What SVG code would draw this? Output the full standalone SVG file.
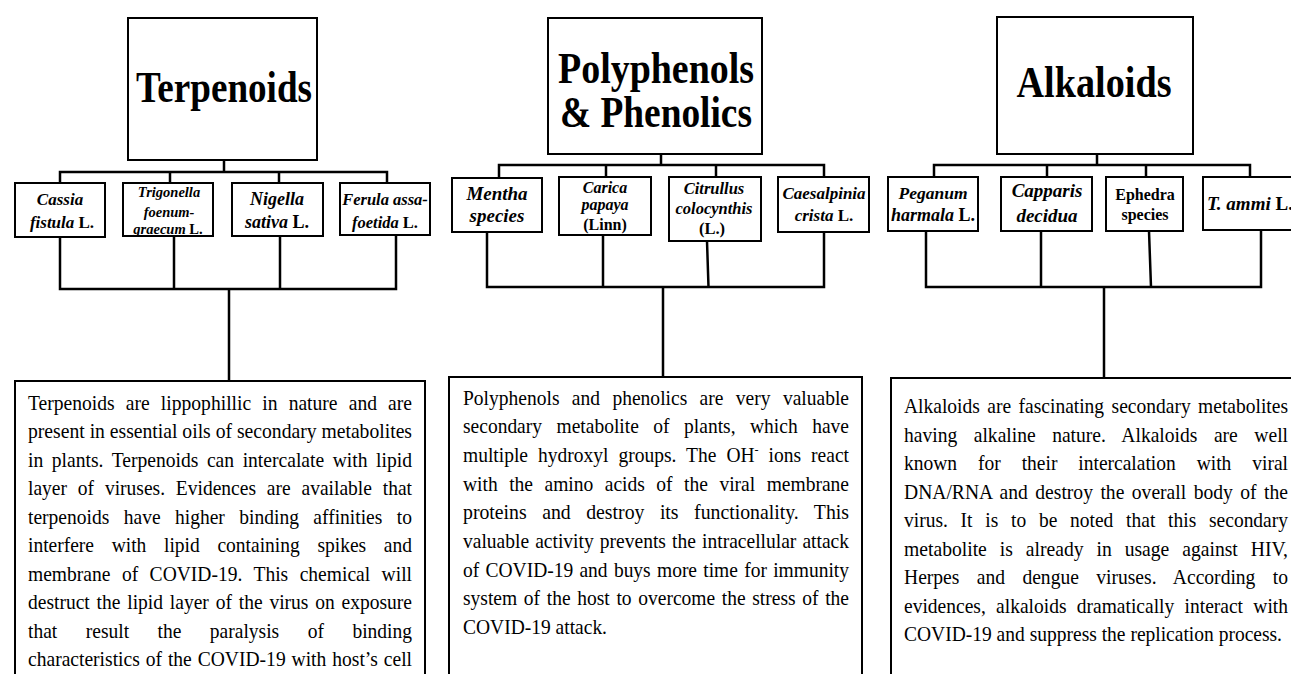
<svg xmlns="http://www.w3.org/2000/svg" width="1291" height="674" viewBox="0 0 1291 674">
<style>
.box{fill:#fff;stroke:#000;stroke-width:2}
.con path{fill:none;stroke:#000;stroke-width:2.5;stroke-linecap:square}
.title{font-family:"Liberation Serif","Times New Roman",serif;font-weight:bold;font-size:44px;text-anchor:middle;fill:#000}
.pl{font-family:"Liberation Serif","Times New Roman",serif;font-weight:bold;font-style:italic;text-anchor:middle;fill:#000}
.up{font-style:normal}
.body{font-family:"Liberation Serif","Times New Roman",serif;font-size:21px;fill:#000}
</style>
<rect width="1291" height="674" fill="#fff"/>

<g id="connectors" class="con">
<path d="M224 160V172M60 172H387M60 172V183M170 172V183M279 172V183M387 172V183"/>
<path d="M60 237V289M174 236V289M280 236V289M396 235V289M60 289H396M229 289V381"/>
<path d="M661 154V165M499 165H824M499 165V178M606 165V177M716 165V177M824 165V177"/>
<path d="M487 232V287M603 235V287M707 241L708.5 287M824 232V287M487 287H824M663 287V377"/>
<path d="M1097 154V165M934 165H1250M934 165V177M1047 165V177M1146 165V177M1250 165V177"/>
<path d="M926 231V287M1041 231V287M1149 231L1151 287M1261 230V287M926 287H1261M1104 287V378"/>
</g>

<g id="node-terpenoids">
<rect class="box" x="128" y="18" width="189" height="142"/>
<text class="title" x="224" y="101.5" textLength="176" lengthAdjust="spacingAndGlyphs">Terpenoids</text>
</g>
<g id="node-polyphenols">
<rect class="box" x="548" y="18" width="214" height="136"/>
<text class="title" x="656" y="82.5" textLength="196" lengthAdjust="spacingAndGlyphs">Polyphenols</text>
<text class="title" x="656" y="126.5" textLength="192" lengthAdjust="spacingAndGlyphs">&amp; Phenolics</text>
</g>
<g id="node-alkaloids">
<rect class="box" x="997" y="17" width="196" height="137"/>
<text class="title" x="1094" y="97" textLength="155" lengthAdjust="spacingAndGlyphs">Alkaloids</text>
</g>

<g id="node-cassia">
<rect class="box" x="15" y="183" width="90" height="54"/>
<text class="pl" x="60" y="205" font-size="17">Cassia</text>
<text class="pl" x="62" y="228" font-size="17">fistula <tspan class="up">L.</tspan></text>
</g>
<g id="node-trigonella">
<rect class="box" x="123" y="183" width="90" height="53"/>
<text class="pl" x="169" y="197" font-size="14.5">Trigonella</text>
<text class="pl" x="169" y="216.5" font-size="14.5">foenum-</text>
<text class="pl" x="168" y="234" font-size="14.5">graecum <tspan class="up">L.</tspan></text>
</g>
<g id="node-nigella">
<rect class="box" x="232" y="183" width="91" height="53"/>
<text class="pl" x="277" y="205" font-size="18">Nigella</text>
<text class="pl" x="277" y="228" font-size="18">sativa <tspan class="up">L.</tspan></text>
</g>
<g id="node-ferula">
<rect class="box" x="340" y="183" width="90" height="52"/>
<text class="pl" x="385" y="205" font-size="16.5">Ferula assa-</text>
<text class="pl" x="385" y="228" font-size="16.5">foetida <tspan class="up">L.</tspan></text>
</g>

<g id="node-mentha">
<rect class="box" x="452" y="178" width="90" height="54"/>
<text class="pl" x="497" y="199.5" font-size="19">Mentha</text>
<text class="pl" x="497" y="222" font-size="19">species</text>
</g>
<g id="node-carica">
<rect class="box" x="559" y="177" width="92" height="58"/>
<text class="pl" x="605" y="193" font-size="16">Carica</text>
<text class="pl" x="605" y="210" font-size="16">papaya</text>
<text class="pl up" x="605" y="230" font-size="16">(Linn)</text>
</g>
<g id="node-citrullus">
<rect class="box" x="669" y="177" width="92" height="64"/>
<text class="pl" x="714" y="194" font-size="16.5">Citrullus</text>
<text class="pl" x="714" y="213.5" font-size="16.5">colocynthis</text>
<text class="pl up" x="712" y="233.5" font-size="16.5">(L.)</text>
</g>
<g id="node-caesalpinia">
<rect class="box" x="778" y="177" width="91" height="55"/>
<text class="pl" x="824" y="198.5" font-size="17">Caesalpinia</text>
<text class="pl" x="824" y="221" font-size="17">crista <tspan class="up">L.</tspan></text>
</g>

<g id="node-peganum">
<rect class="box" x="888" y="177" width="90" height="54"/>
<text class="pl" x="933" y="198.5" font-size="17.5">Peganum</text>
<text class="pl" x="933" y="220.5" font-size="18">harmala <tspan class="up">L.</tspan></text>
</g>
<g id="node-capparis">
<rect class="box" x="1001" y="177" width="91" height="54"/>
<text class="pl" x="1047" y="197" font-size="19">Capparis</text>
<text class="pl" x="1047" y="221.5" font-size="19">decidua</text>
</g>
<g id="node-ephedra">
<rect class="box" x="1106" y="177" width="77" height="54"/>
<text class="pl up" x="1145" y="199.5" font-size="16">Ephedra</text>
<text class="pl up" x="1145" y="220" font-size="16">species</text>
</g>
<g id="node-tammi">
<rect class="box" x="1203" y="177" width="100" height="53"/>
<text class="pl" x="1207" y="210" font-size="19" style="text-anchor:start">T. ammi <tspan class="up">L.</tspan></text>
</g>

<g id="node-terpenoids-text">
<rect class="box" x="15" y="381" width="410" height="310"/>
<text class="body" x="28" y="409.5" word-spacing="6.7" textLength="384" lengthAdjust="spacingAndGlyphs">Terpenoids are lippophillic in nature and are</text>
<text class="body" x="28" y="438" textLength="384" lengthAdjust="spacingAndGlyphs">present in essential oils of secondary metabolites</text>
<text class="body" x="28" y="466.5" word-spacing="3.9" textLength="384" lengthAdjust="spacingAndGlyphs">in plants. Terpenoids can intercalate with lipid</text>
<text class="body" x="28" y="495" word-spacing="6.4" textLength="384" lengthAdjust="spacingAndGlyphs">layer of viruses. Evidences are available that</text>
<text class="body" x="28" y="523.5" word-spacing="10.3" textLength="384" lengthAdjust="spacingAndGlyphs">terpenoids have higher binding affinities to</text>
<text class="body" x="28" y="552" word-spacing="13.8" textLength="384" lengthAdjust="spacingAndGlyphs">interfere with lipid containing spikes and</text>
<text class="body" x="28" y="580.5" word-spacing="7.1" textLength="384" lengthAdjust="spacingAndGlyphs">membrane of COVID-19. This chemical will</text>
<text class="body" x="28" y="609" word-spacing="2.1" textLength="384" lengthAdjust="spacingAndGlyphs">destruct the lipid layer of the virus on exposure</text>
<text class="body" x="28" y="637.5" word-spacing="25.4" textLength="384" lengthAdjust="spacingAndGlyphs">that result the paralysis of binding</text>
<text class="body" x="28" y="666" word-spacing="1.1" textLength="384" lengthAdjust="spacingAndGlyphs">characteristics of the COVID-19 with host’s cell</text>
</g>

<g id="node-polyphenols-text">
<rect class="box" x="449" y="377" width="413" height="314"/>
<text class="body" x="463" y="404.5" word-spacing="8.1" textLength="386" lengthAdjust="spacingAndGlyphs">Polyphenols and phenolics are very valuable</text>
<text class="body" x="463" y="433.2" word-spacing="10.4" textLength="386" lengthAdjust="spacingAndGlyphs">secondary metabolite of plants, which have</text>
<text class="body" x="463" y="461.9" word-spacing="5.5" textLength="386" lengthAdjust="spacingAndGlyphs">multiple hydroxyl groups. The OH<tspan font-size="13" dy="-8">-</tspan><tspan dy="8"> ions react</tspan></text>
<text class="body" x="463" y="490.6" word-spacing="7.1" textLength="386" lengthAdjust="spacingAndGlyphs">with the amino acids of the viral membrane</text>
<text class="body" x="463" y="519.3" word-spacing="11.2" textLength="386" lengthAdjust="spacingAndGlyphs">proteins and destroy its functionality. This</text>
<text class="body" x="463" y="548" word-spacing="1.4" textLength="386" lengthAdjust="spacingAndGlyphs">valuable activity prevents the intracellular attack</text>
<text class="body" x="463" y="576.7" word-spacing="1.5" textLength="386" lengthAdjust="spacingAndGlyphs">of COVID-19 and buys more time for immunity</text>
<text class="body" x="463" y="605.4" word-spacing="1.9" textLength="386" lengthAdjust="spacingAndGlyphs">system of the host to overcome the stress of the</text>
<text class="body" x="463" y="634.1" textLength="144" lengthAdjust="spacingAndGlyphs">COVID-19 attack.</text>
</g>

<g id="node-alkaloids-text">
<rect class="box" x="891" y="378" width="420" height="313"/>
<text class="body" x="904" y="413" word-spacing="2.8" textLength="384" lengthAdjust="spacingAndGlyphs">Alkaloids are fascinating secondary metabolites</text>
<text class="body" x="904" y="441.5" word-spacing="12.5" textLength="384" lengthAdjust="spacingAndGlyphs">having alkaline nature. Alkaloids are well</text>
<text class="body" x="904" y="470" word-spacing="17.3" textLength="384" lengthAdjust="spacingAndGlyphs">known for their intercalation with viral</text>
<text class="body" x="904" y="498.5" word-spacing="2.8" textLength="384" lengthAdjust="spacingAndGlyphs">DNA/RNA and destroy the overall body of the</text>
<text class="body" x="904" y="527" word-spacing="8.5" textLength="384" lengthAdjust="spacingAndGlyphs">virus. It is to be noted that this secondary</text>
<text class="body" x="904" y="555.5" word-spacing="8.6" textLength="384" lengthAdjust="spacingAndGlyphs">metabolite is already in usage against HIV,</text>
<text class="body" x="904" y="584" word-spacing="13.4" textLength="384" lengthAdjust="spacingAndGlyphs">Herpes and dengue viruses. According to</text>
<text class="body" x="904" y="612.5" word-spacing="5.8" textLength="384" lengthAdjust="spacingAndGlyphs">evidences, alkaloids dramatically interact with</text>
<text class="body" x="904" y="641" textLength="378" lengthAdjust="spacingAndGlyphs">COVID-19 and suppress the replication process.</text>
</g>
</svg>
